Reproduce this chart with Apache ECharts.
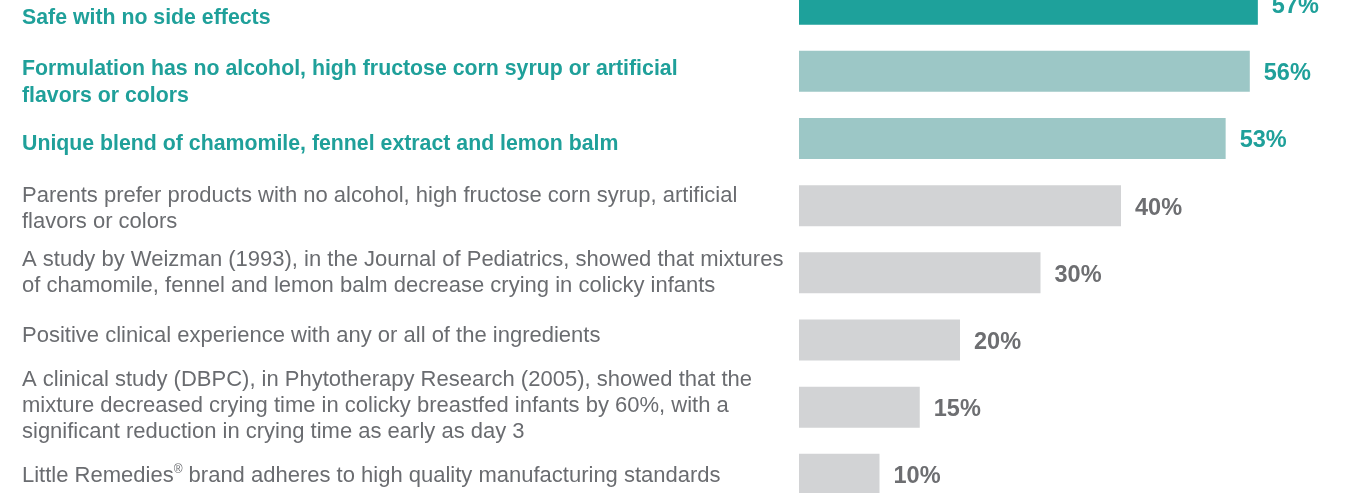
<!DOCTYPE html>
<html style="height: 100%">
<head>
    <meta charset="utf-8">
</head>
<body style="height: 100%; margin: 0; background: #fff">
<div id="container" style="width: 1353px; height: 493px"></div>
<script src="https://cdn.jsdelivr.net/npm/echarts@6/dist/echarts.min.js"></script>
<script type="text/javascript">
    // categories, top to bottom
    var categories = [
        'Safe with no side effects',
        'Formulation has no alcohol, high fructose corn syrup or artificial\nflavors or colors',
        'Unique blend of chamomile, fennel extract and lemon balm',
        'Parents prefer products with no alcohol, high fructose corn syrup, artificial\nflavors or colors',
        'A study by Weizman (1993), in the Journal of Pediatrics, showed that mixtures\nof chamomile, fennel and lemon balm decrease crying in colicky infants',
        'Positive clinical experience with any or all of the ingredients',
        'A clinical study (DBPC), in Phytotherapy Research (2005), showed that the\nmixture decreased crying time in colicky breastfed infants by 60%, with a\nsignificant reduction in crying time as early as day 3',
        'Little Remedies\u00ae brand adheres to high quality manufacturing standards'
    ];
    var values = [57, 56, 53, 40, 30, 20, 15, 10];
    // 0 = top reason, 1 = highlighted, 2 = other
    var groups = [0, 1, 1, 2, 2, 2, 2, 2];

    var barColors = ['#1ea19b', '#9cc7c6', '#d2d3d5'];
    var textColors = ['#1fa09a', '#1fa09a', '#6a6c70'];
    var valueColors = ['#1fa09a', '#1fa09a', '#6d6e71'];
    // small vertical nudges for left labels (px, + = down)
    var shift = [14, 11, 6, 3.5, 0.5, -4, -1, 2];

    var dom = document.getElementById("container");
    var myChart = echarts.init(dom);

    // one rich style per category; padding nudges the glyphs inside each line
    var rich = {};
    categories.forEach(function (c, i) {
        var g = groups[i];
        var s = shift[i];
        var pad = s >= 0 ? [2 * s, 0, 0, 0] : [0, 0, -2 * s, 0];
        rich['t' + i] = {
            color: textColors[g],
            fontFamily: 'Liberation Sans',
            fontWeight: g < 2 ? 'bold' : 'normal',
            fontSize: g < 2 ? 21.3 : 22,
            lineHeight: g < 2 ? 27 : 26,
            align: 'left',
            padding: pad
        };
        // superscript registered mark
        rich['r' + i] = {
            color: textColors[g],
            fontFamily: 'Liberation Sans',
            fontSize: 12,
            lineHeight: 26,
            padding: [pad[0], 0, pad[2] + 14, 0]
        };
    });

    var barData = values.map(function (v, i) {
        return {
            value: v,
            itemStyle: {color: barColors[groups[i]]},
            label: {color: valueColors[groups[i]]}
        };
    });

    var option = {
        animation: false,
        grid: {
            left: 799, right: 71, top: -29.4, bottom: -14.9,
            containLabel: false,
            outerBoundsMode: 'none'
        },
        xAxis: {
            type: 'value',
            min: 0,
            max: 60,
            show: false
        },
        yAxis: {
            type: 'category',
            inverse: true,
            data: categories,
            axisLine: {show: false},
            axisTick: {show: false},
            axisLabel: {
                align: 'left',
                margin: 777,
                formatter: function (value, index) {
                    return value.split('\n').map(function (l) {
                        var parts = l.split('\u00ae');
                        return parts.map(function (p) {
                            return '{t' + index + '|' + p + '}';
                        }).join('{r' + index + '|\u00ae}');
                    }).join('\n');
                },
                rich: rich
            }
        },
        series: [{
            type: 'bar',
            data: barData,
            barWidth: 41,
            label: {
                show: true,
                position: 'right',
                distance: 14,
                offset: [0, 2.5],
                formatter: '{c}%',
                fontFamily: 'Liberation Sans',
                fontWeight: 'bold',
                fontSize: 23.5
            }
        }]
    };
    myChart.setOption(option);
</script>
</body>
</html>
